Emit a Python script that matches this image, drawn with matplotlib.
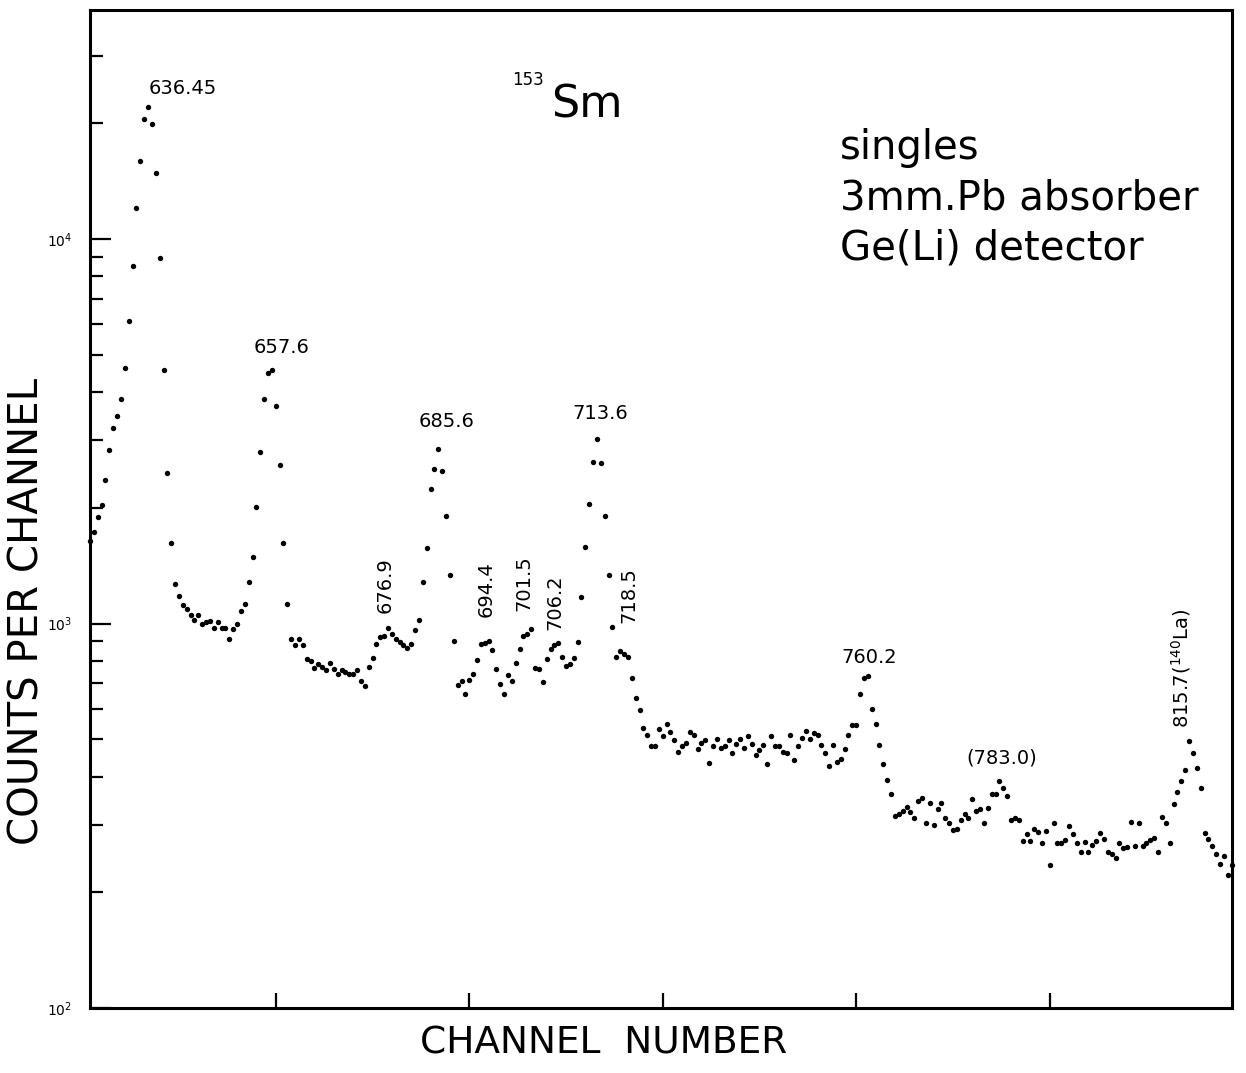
import numpy as np
import matplotlib
matplotlib.use("Agg")
import matplotlib.pyplot as plt
from matplotlib.ticker import LogLocator, NullFormatter

# ---- data: 153Sm singles spectrum (counts per channel), channels 2..297 ----
first_channel = 2
counts = [
    1640, 1730, 1890, 2030, 2370, 2820, 3220, 3460, 3830, 4610,          # 2-11
    6110, 8510, 12040, 15960, 20540, 22070, 19930, 14860, 8920, 4580,    # 12-21
    2460, 1620, 1270, 1180, 1120, 1090, 1050, 1020, 1050, 1000,          # 22-31
    1012, 1018, 976, 1012, 976, 976, 909, 970, 1000, 1081,               # 32-41
    1127, 1286, 1494, 2005, 2790, 3830, 4480, 4580, 3670, 2590,          # 42-51
    1620, 1127, 914, 882, 914, 882, 811, 801, 768, 787,                  # 52-61
    773, 759, 792, 764, 741, 755, 750, 741, 741, 755,                    # 62-71
    711, 690, 773, 816, 887, 920, 931, 976, 942, 914,                    # 72-81
    898, 877, 866, 887, 965, 1024, 1279, 1577, 2234, 2530,               # 82-91
    2840, 2500, 1900, 1340, 903, 694, 711, 657, 715, 741,                # 92-101
    806, 887, 892, 903, 856, 764, 698, 657, 737, 711,                    # 102-111
    792, 861, 931, 942, 970, 768, 764, 706, 811, 861,                    # 112-121
    877, 892, 820, 777, 787, 816, 898, 1176, 1586, 2042,                 # 122-131
    2626, 3014, 2610, 1910, 1334, 982, 820, 851, 835, 820,               # 132-141
    723, 642, 597, 536, 514, 481, 481, 533, 511, 549,                    # 142-151
    523, 499, 464, 481, 490, 523, 514, 473, 490, 499,                    # 152-161
    435, 481, 502, 476, 481, 499, 461, 487, 502, 476,                    # 162-171
    511, 487, 456, 470, 484, 430, 511, 479, 481, 464,                    # 172-181
    461, 514, 442, 481, 505, 527, 502, 520, 514, 484,                    # 182-191
    461, 427, 484, 437, 445, 473, 514, 546, 546, 657,                    # 192-201
    723, 732, 601, 549, 484, 432, 392, 361, 316, 320,                    # 202-211
    326, 334, 324, 312, 346, 352, 302, 342, 300, 329,                    # 212-221
    342, 312, 302, 291, 292, 309, 320, 312, 350, 326,                    # 222-231
    329, 303, 331, 361, 361, 390, 374, 357, 309, 312,                    # 232-241
    309, 272, 284, 272, 292, 287, 268, 289, 236, 302,                    # 242-251
    268, 268, 274, 297, 284, 269, 255, 271, 255, 266,                    # 252-261
    272, 286, 276, 254, 252, 246, 269, 260, 263, 305,                    # 262-271
    264, 302, 264, 268, 274, 277, 254, 314, 303, 269,                    # 272-281
    340, 365, 390, 417, 496, 461, 422, 374, 286, 276,                    # 282-291
    264, 252, 237, 249, 222, 235,                                        # 292-297
]
channels = np.arange(first_channel, first_channel + len(counts))

# peak energy labels (keV)
peak_labels = ["636.45", "657.6", "685.6", "713.6", "760.2", "(783.0)"]
peak_label_ch = [26.0, 51.4, 94.2, 133.8, 203.3, 237.7]
peak_label_cnt = [24700, 5230, 3360, 3520, 816, 448]

vert_labels = ["676.9", "694.4", "701.5", "706.2", "718.5",
               "815.7($^{140}$La)"]
vert_label_ch = [78.2, 104.3, 114.1, 122.2, 141.3, 283.9]
vert_label_cnt = [1256, 1226, 1271, 1134, 1183, 763]

x_ticks = [50, 100, 150, 200, 250]
y_ticks = [1e2, 1e3, 1e4]
y_ticklabels = ["$10^2$", "$10^3$", "$10^4$"]

W, H = 1246, 1073
fig = plt.figure(figsize=(W / 100, H / 100), dpi=100)
ax = fig.add_axes([90 / W, 1 - 1008 / H, 1142 / W, 998 / H])

ax.scatter(channels, counts, s=15, c="black", marker="o",
           linewidths=0, clip_on=False, zorder=3)

ax.set_yscale("log")
ax.set_xlim(2, 297.1)
ax.set_ylim(100, 39450)

ax.set_xticks(x_ticks)
ax.set_xticklabels([])
ax.set_yticks(y_ticks)
ax.set_yticklabels(y_ticklabels, fontsize=10)
ax.yaxis.set_minor_locator(LogLocator(base=10, subs=np.arange(2, 10)))
ax.yaxis.set_minor_formatter(NullFormatter())
ax.tick_params(axis="y", which="major", direction="in", length=15, width=1.6, pad=13)
ax.tick_params(axis="y", which="minor", direction="in", length=9, width=1.6)
ax.tick_params(axis="x", which="major", direction="in", length=11, width=1.6)
ax.tick_params(axis="x", which="minor", bottom=False)
for sp in ax.spines.values():
    sp.set_linewidth(2.2)

ax.set_ylabel("COUNTS PER CHANNEL", fontsize=29)
ax.yaxis.set_label_coords(-0.037, 0.397)
ax.set_xlabel("CHANNEL  NUMBER", fontsize=27)
ax.xaxis.set_label_coords(0.45, -0.018)

for t, xc, yc in zip(peak_labels, peak_label_ch, peak_label_cnt):
    ax.text(xc, yc, t, fontsize=14, ha="center", va="center")
for t, xc, yc in zip(vert_labels, vert_label_ch, vert_label_cnt):
    ax.text(xc, yc, t, fontsize=14, ha="center", va="center", rotation=90)

# isotope title
ax.text(115.2, 25900, "153", fontsize=12, ha="center", va="center")
ax.text(130.4, 22300, "Sm", fontsize=32, ha="center", va="center")

# measurement notes
ax.text(195.8, 17260, "singles", fontsize=29, ha="left", va="center")
ax.text(195.8, 12790, "3mm.Pb absorber", fontsize=29, ha="left", va="center")
ax.text(195.8, 9480, "Ge(Li) detector", fontsize=29, ha="left", va="center")

fig.savefig("out.png", dpi=100, facecolor="white")
